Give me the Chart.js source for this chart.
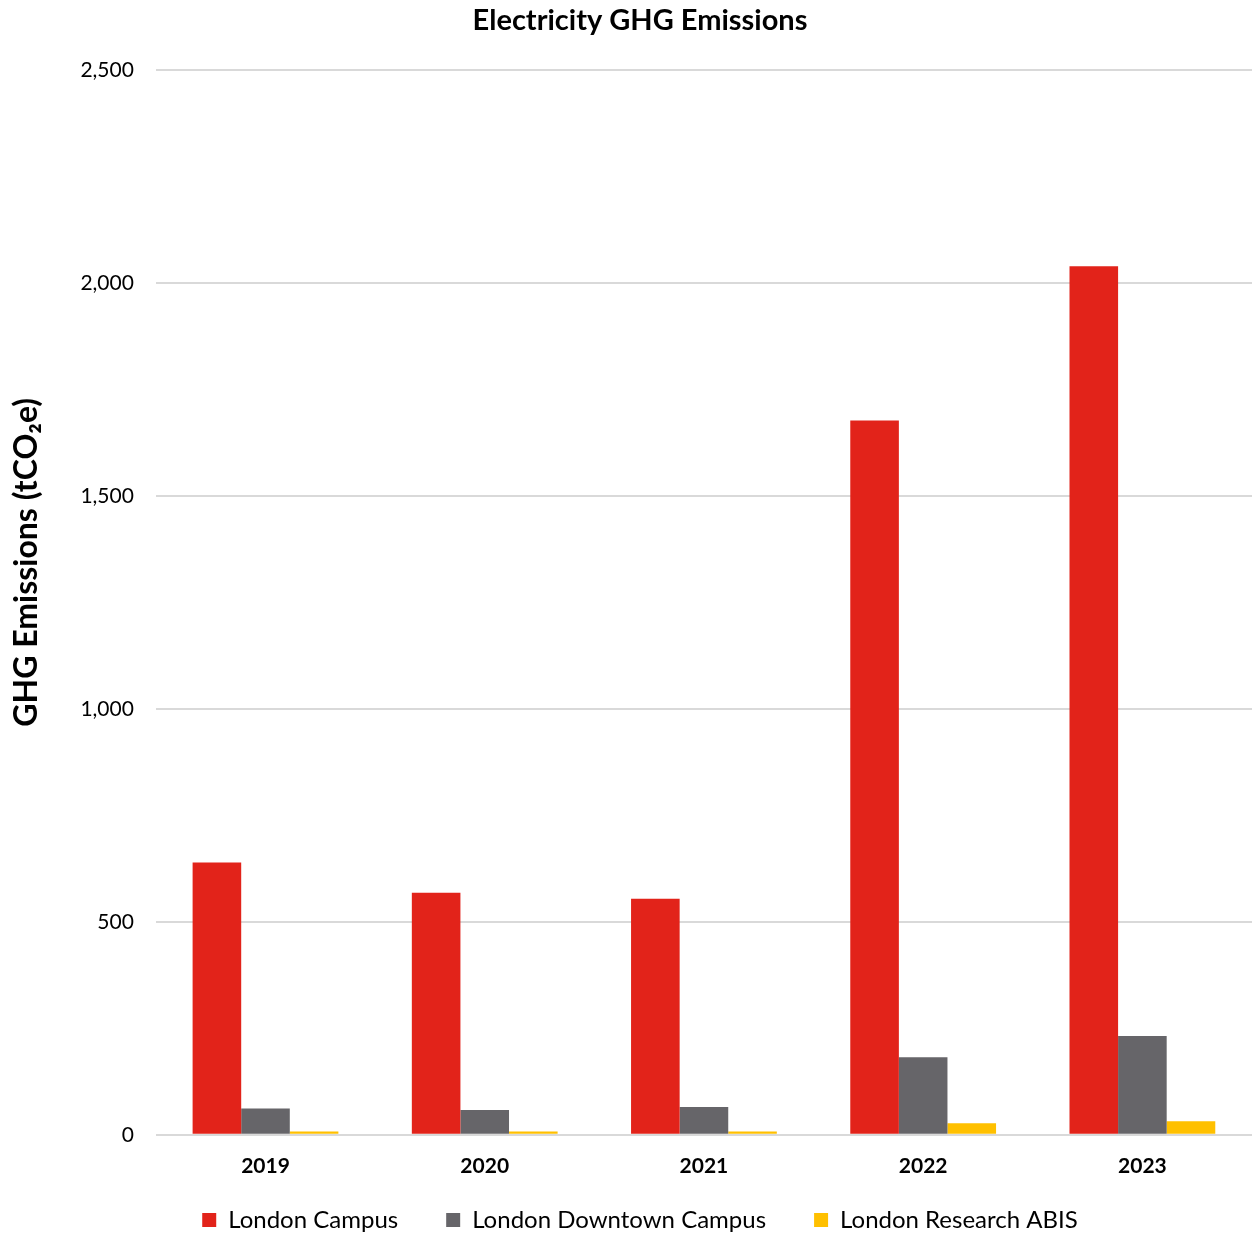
<!DOCTYPE html>
<html>
<head>
<meta charset="utf-8">
<title>Electricity GHG Emissions</title>
<script src="https://cdn.jsdelivr.net/npm/chart.js@4.4.1/dist/chart.umd.min.js"></script>
<style>
  html, body { margin: 0; padding: 0; background: #ffffff; }
  #wrap { width: 1252px; height: 1235px; }
</style>
</head>
<body>
<div id="wrap"><canvas id="ghgChart" width="1252" height="1235"></canvas></div>
<script>
// emissions in tCO2e per site and year
const years = ["2019", "2020", "2021", "2022", "2023"];
const londonCampus = [639, 568, 554, 1677, 2039];
const londonDowntown = [62, 58, 65, 182, 232];
const londonResearchAbis = [8, 8, 8, 27, 32];
const yTicks = [0, 500, 1000, 1500, 2000, 2500];

const FONT = "Lato, 'Open Sans', sans-serif";

// keep wide gaps between legend items but a short legend box,
// and sit the y axis title a little above the middle of the axis
const LEGEND_HEIGHT = 34;
const LEGEND_SHIFT = 38;
const Y_TITLE_SHIFT = -40;
const layoutTweaks = {
    id: "layoutTweaks",
    afterInit(chart) {
        const legend = chart.legend;
        const fit = legend.fit;
        legend.fit = function () {
            fit.call(this);
            this.height = LEGEND_HEIGHT;
        };
        const draw = legend.draw;
        legend.draw = function () {
            this.top -= LEGEND_SHIFT;
            draw.call(this);
            this.top += LEGEND_SHIFT;
        };
    },
    beforeDraw(chart) {
        const y = chart.scales.y;
        if (y && !y._titleShifted) {
            const drawTitle = y.drawTitle;
            y.drawTitle = function () {
                this.ctx.save();
                this.ctx.translate(0, Y_TITLE_SHIFT);
                drawTitle.call(this);
                this.ctx.restore();
            };
            y._titleShifted = true;
        }
    }
};

let ctx = document.getElementById("ghgChart").getContext("2d");

new Chart(ctx, {
    type: "bar",
    data: {
        labels: years,
        datasets: [{
            label: "London Campus",
            data: londonCampus,
            backgroundColor: "#E2231A"
        }, {
            label: "London Downtown Campus",
            data: londonDowntown,
            backgroundColor: "#666569"
        }, {
            label: "London Research ABIS",
            data: londonResearchAbis,
            backgroundColor: "#FFC000"
        }]
    },
    plugins: [layoutTweaks],
    options: {
        responsive: false,
        devicePixelRatio: 1,
        animation: false,
        layout: { padding: { top: 3, right: 0, left: 28, bottom: 3 } },
        datasets: {
            bar: { categoryPercentage: 0.665, barPercentage: 1.0 }
        },
        plugins: {
            title: {
                display: true,
                text: "Electricity GHG Emissions",
                color: "#000",
                font: { family: FONT, size: 29, weight: "bold" },
                padding: { top: 0, bottom: 32 }
            },
            legend: {
                position: "bottom",
                labels: {
                    color: "#000",
                    font: { family: FONT, size: 24 },
                    boxWidth: 14,
                    boxHeight: 14,
                    padding: 48
                }
            },
            tooltip: { enabled: false }
        },
        scales: {
            x: {
                grid: { display: false, drawTicks: false },
                border: { display: false },
                ticks: {
                    color: "#000",
                    font: { family: FONT, size: 21, weight: "bold" },
                    padding: 19
                }
            },
            y: {
                min: 0,
                max: 2500,
                afterBuildTicks: function (axis) {
                    axis.ticks = yTicks.map(v => ({ value: v }));
                },
                grid: { color: "#D9D9D9", lineWidth: 2, drawTicks: false },
                border: { display: false },
                ticks: {
                    color: "#000",
                    font: { family: FONT, size: 21 },
                    padding: 22,
                    callback: v => v.toLocaleString("en-US")
                },
                title: {
                    display: true,
                    text: "GHG Emissions (tCO₂e)",
                    color: "#000",
                    font: { family: FONT, size: 32, weight: "bold" },
                    padding: { top: -21, bottom: 13 }
                }
            }
        }
    }
});
</script>
</body>
</html>
